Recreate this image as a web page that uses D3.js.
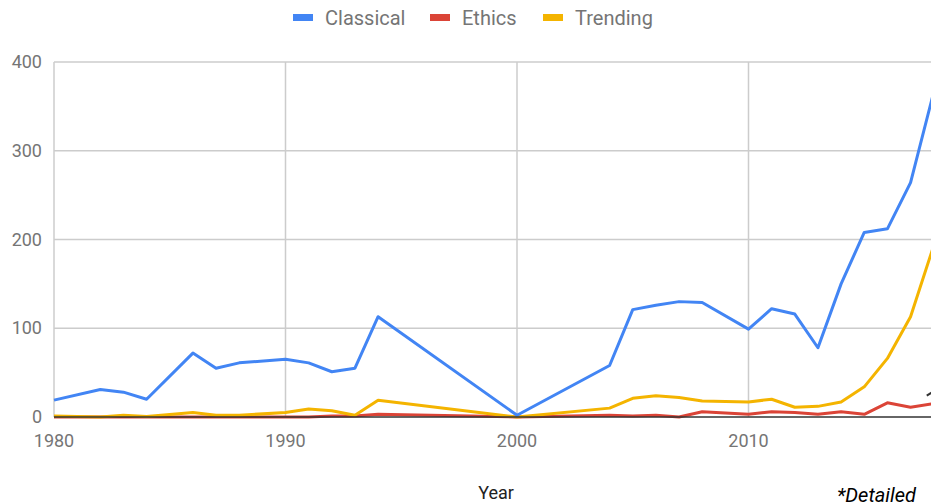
<!DOCTYPE html>
<html>
<head>
<meta charset="utf-8">
<script src="https://cdn.jsdelivr.net/npm/d3@7"></script>
<style>
  body { margin: 0; background: #fff; }
  svg { display: block; font-family: Roboto, sans-serif; }
</style>
</head>
<body>
<div id="chart"></div>
<script>
// data
var years     = [1980,1982,1983,1984,1986,1987,1988,1990,1991,1992,1993,1994,2000,2004,2005,2006,2007,2008,2010,2011,2012,2013,2014,2015,2016,2017,2018];
var classical = [19,31,28,20,72,55,61,65,61,51,55,113,2,58,121,126,130,129,99,122,116,78,150,208,212,264,366];
var ethics    = [0,0,0,0,0,0,0,0,0,1,1,3,0,2,1,2,0,6,3,6,5,3,6,3,16,11,15];
var trending  = [1,0,2,0.5,5,2,2,5,9,7,2,19,0,10,21,24,22,18,17,20,11,12,17,34,66,113,193];
var seriesNames = ["Classical", "Ethics", "Trending"];
var seriesColors = ["#4285f4", "#db4437", "#f4b400"];
var xTicks = [1980, 1990, 2000, 2010];
var yTicks = [0, 100, 200, 300, 400];

var width = 931;
var height = 503;
var htmlID = "chart";

var svg = d3.select("#" + htmlID)
            .append("svg")
            .attr("width", width)
            .attr("height", height);

// x runs on past the right edge, the chart is cut off there
var x = d3.scaleLinear().domain([1980, 2020]).range([54, 980]);
var y = d3.scaleLinear().domain([0, 400]).range([417, 62]);

// gridlines
svg.append("g")
   .selectAll("line.hgrid")
   .data(yTicks.filter(function(d){ return d > 0; }))
   .enter()
   .append("line")
   .attr("x1", x(1980)).attr("x2", x(2020))
   .attr("y1", function(d){ return y(d); })
   .attr("y2", function(d){ return y(d); })
   .attr("stroke", "#cccccc")
   .attr("stroke-width", 1.5);

svg.append("g")
   .selectAll("line.vgrid")
   .data(xTicks)
   .enter()
   .append("line")
   .attr("x1", function(d){ return x(d); })
   .attr("x2", function(d){ return x(d); })
   .attr("y1", y(0)).attr("y2", y(400))
   .attr("stroke", "#cccccc")
   .attr("stroke-width", 1.5);

// y tick labels
svg.append("g")
   .selectAll("text")
   .data(yTicks)
   .enter()
   .append("text")
   .attr("x", 42)
   .attr("y", function(d){ return y(d) + 6; })
   .attr("text-anchor", "end")
   .attr("font-size", "18px")
   .attr("fill", "#757575")
   .text(function(d){ return d; });

// x tick labels
svg.append("g")
   .selectAll("text")
   .data(xTicks)
   .enter()
   .append("text")
   .attr("x", function(d){ return x(d); })
   .attr("y", 447)
   .attr("text-anchor", "middle")
   .attr("font-size", "18px")
   .attr("fill", "#757575")
   .text(function(d){ return d; });

// lines
var allSeries = [classical, ethics, trending];
var line = d3.line()
             .x(function(d, i){ return x(years[i]); })
             .y(function(d){ return y(d); });

// draw red first, then yellow, then blue on top, like the original
[1, 2, 0].forEach(function(k){
  svg.append("path")
     .datum(allSeries[k])
     .attr("d", line)
     .attr("fill", "none")
     .attr("stroke", seriesColors[k])
     .attr("stroke-width", 3)
     .attr("stroke-linejoin", "round");
});

// baseline
svg.append("line")
   .attr("x1", x(1980)).attr("x2", x(2020))
   .attr("y1", y(0)).attr("y2", y(0))
   .attr("stroke", "#333333")
   .attr("stroke-width", 1.5);

// annotation stub cut off at the edge
svg.append("line")
   .attr("x1", x(2017.7)).attr("y1", y(24))
   .attr("x2", x(2018)).attr("y2", y(29))
   .attr("stroke", "#333333")
   .attr("stroke-width", 2);

// legend
var legendX = [293, 430, 543];
var legend = svg.append("g");
seriesNames.forEach(function(name, i){
  legend.append("rect")
        .attr("x", legendX[i]).attr("y", 14)
        .attr("width", 20).attr("height", 7)
        .attr("fill", seriesColors[i]);
  legend.append("text")
        .attr("x", legendX[i] + 32)
        .attr("y", 25)
        .attr("font-size", "20px")
        .attr("fill", "#757575")
        .text(name);
});

// axis title
svg.append("text")
   .attr("x", 496)
   .attr("y", 499)
   .attr("text-anchor", "middle")
   .attr("font-size", "18px")
   .attr("fill", "#222222")
   .text("Year");

svg.append("text")
   .attr("x", 837)
   .attr("y", 502)
   .attr("font-size", "20px")
   .attr("font-style", "italic")
   .attr("fill", "#000000")
   .text("*Detailed");
</script>
</body>
</html>
